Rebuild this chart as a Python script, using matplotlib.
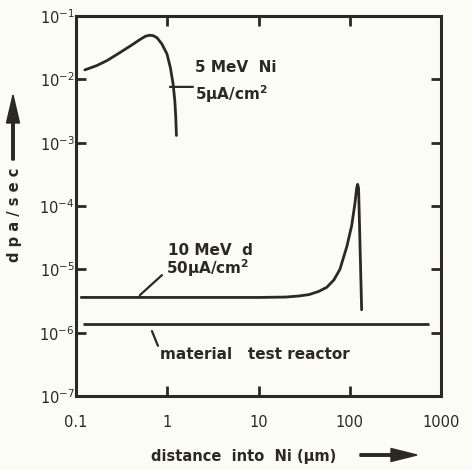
import matplotlib
matplotlib.use("Agg")
import matplotlib.pyplot as plt
from matplotlib.ticker import FixedLocator, FixedFormatter, NullLocator

INK = "#2a2a22"
BG = "#fcfcf6"

# ---- data ----
ni_x = [0.125, 0.169, 0.219, 0.296, 0.401, 0.497, 0.575, 0.640, 0.700, 0.770,
        0.871, 0.993, 1.08, 1.16, 1.21, 1.24, 1.26]
ni_y = [0.0141, 0.0165, 0.0198, 0.0259, 0.0342, 0.0421, 0.0478, 0.0497, 0.0490,
        0.0455, 0.0364, 0.0252, 0.0155, 0.0084, 0.0046, 0.0025, 0.0013]

d_x = [0.114, 1.0, 10.0, 20.0, 28.0, 36.0, 46.0, 56.0, 67.0, 78.0, 93.0, 105.0,
       114.0, 119.0, 122.0, 125.0, 130.0, 135.0]
d_y = [3.6e-6, 3.6e-6, 3.6e-6, 3.65e-6, 3.8e-6, 4.0e-6, 4.5e-6, 5.2e-6, 6.8e-6,
       1.0e-5, 2.3e-5, 4.9e-5, 1.1e-4, 1.9e-4, 2.2e-4, 1.9e-4, 2.0e-5, 2.3e-6]

mtr_x = [0.12, 740.0]
mtr_y = [1.35e-6, 1.35e-6]

x_ticks = [0.1, 1, 10, 100, 1000]
x_tick_labels = ["0.1", "1", "10", "100", "1000"]
y_ticks = [1e-7, 1e-6, 1e-5, 1e-4, 1e-3, 1e-2, 1e-1]
y_tick_labels = [r"$\mathregular{10^{-7}}$", r"$\mathregular{10^{-6}}$",
                 r"$\mathregular{10^{-5}}$", r"$\mathregular{10^{-4}}$",
                 r"$\mathregular{10^{-3}}$", r"$\mathregular{10^{-2}}$",
                 r"$\mathregular{10^{-1}}$"]

plt.rcParams["font.family"] = ["DejaVu Sans"]
plt.rcParams["mathtext.fontset"] = "dejavusans"

fig = plt.figure(figsize=(4.72, 4.70), dpi=100, facecolor=BG)
ax = fig.add_axes([76 / 472, 1 - 396 / 470, 365 / 472, 380 / 470])
ax.set_facecolor(BG)
ax.set_xscale("log")
ax.set_yscale("log")
ax.set_xlim(0.1, 1000)
ax.set_ylim(1e-7, 1e-1)

lw = 2.0
ax.plot(ni_x, ni_y, color=INK, lw=lw, solid_capstyle="round", solid_joinstyle="round")
ax.plot(d_x, d_y, color=INK, lw=lw, solid_capstyle="round", solid_joinstyle="round")
ax.plot(mtr_x, mtr_y, color=INK, lw=lw, solid_capstyle="butt")

for s in ax.spines.values():
    s.set_linewidth(2.2)
    s.set_color(INK)

ax.xaxis.set_major_locator(FixedLocator(x_ticks))
ax.xaxis.set_major_formatter(FixedFormatter(x_tick_labels))
ax.yaxis.set_major_locator(FixedLocator(y_ticks))
ax.yaxis.set_major_formatter(FixedFormatter(y_tick_labels))
ax.xaxis.set_minor_locator(NullLocator())
ax.yaxis.set_minor_locator(NullLocator())
ax.tick_params(axis="both", which="major", direction="in", length=7, width=2,
               color=INK, top=True, right=True, labelcolor=INK)
ax.tick_params(axis="x", pad=14, labelsize=10.5)
ax.tick_params(axis="y", pad=1, labelsize=10.5)

tkw = dict(color=INK, fontsize=11, fontweight="bold", va="center", ha="left")
ax.text(2.01, 0.0151, "5 MeV  Ni", **tkw)
ax.text(2.01, 0.0058, "5μA/cm$^{\\mathbf{2}}$", **tkw)
ax.annotate("", xy=(1.07, 0.0076), xytext=(1.91, 0.0076),
            arrowprops=dict(arrowstyle="-", color=INK, lw=1.6, shrinkA=0, shrinkB=0))

ax.text(1.02, 2.0e-5, "10 MeV  d", **tkw)
ax.text(0.97, 1.05e-5, "50μA/cm$^{\\mathbf{2}}$", **tkw)
ax.annotate("", xy=(0.50, 3.9e-6), xytext=(0.875, 8.1e-6),
            arrowprops=dict(arrowstyle="-", color=INK, lw=1.6, shrinkA=0, shrinkB=0))

ax.text(0.83, 4.6e-7, "material   test reactor", **tkw)
ax.annotate("", xy=(0.68, 1.06e-6), xytext=(0.79, 6.2e-7),
            arrowprops=dict(arrowstyle="-", color=INK, lw=1.6, shrinkA=0, shrinkB=0))

# axis labels with arrows
fig.text(244 / 472, 1 - 457 / 470, "distance  into  Ni (μm)", color=INK,
         fontsize=10.5, fontweight="bold", ha="center", va="center")
fig.text(15 / 472, 1 - 215 / 470, "d p a / s e c", color=INK, fontsize=10.5,
         fontweight="bold", ha="center", va="center", rotation=90)

fig.patches.append(matplotlib.patches.FancyArrow(
    360 / 472, 1 - 455 / 470, 57 / 472, 0, width=2.5 / 470, head_width=13 / 470,
    head_length=26 / 472, length_includes_head=True, color=INK,
    transform=fig.transFigure, figure=fig))
fig.patches.append(matplotlib.patches.FancyArrow(
    13 / 472, 1 - 160 / 470, 0, 65 / 470, width=2.5 / 472, head_width=13 / 472,
    head_length=28 / 470, length_includes_head=True, color=INK,
    transform=fig.transFigure, figure=fig))

fig.savefig("out.png", dpi=100, facecolor=BG)
